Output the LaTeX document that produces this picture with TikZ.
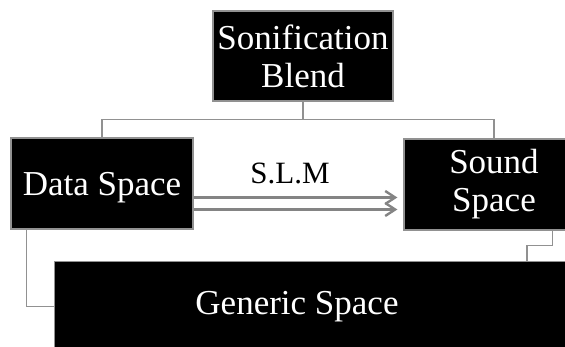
\documentclass[tikz,border=0pt]{standalone}
\usepackage{fontspec}
\setmainfont{Liberation Serif}
\usetikzlibrary{positioning,arrows.meta,calc}
\definecolor{blendgray}{RGB}{145,145,145}
\definecolor{mapgray}{RGB}{132,132,132}

\begin{document}
\begin{tikzpicture}[x=1pt,y=-1pt,
  space/.style={rectangle,draw=blendgray,line width=1.2pt,fill=black,text=white,
    align=center,inner sep=0pt,font=\fontsize{35}{38}\selectfont},
  link/.style={draw=blendgray,line width=1.2pt},
  map/.style={draw=mapgray,line width=2.4pt,-{Straight Barb[length=10pt,width=13pt]}}]
\useasboundingbox (0,0) rectangle (565,347);
\clip (0,0) rectangle (565,347);

% the blend on top, the two input spaces below it
\node[space,minimum width=180,minimum height=90] (blend) at (303,56) {Sonification\\Blend};
\node[space,minimum width=182,minimum height=91,text depth=0pt] (data) at (102,183.5) {Data Space};
\node[space,minimum width=180,minimum height=91] (sound) at (494,184.5) {Sound\\Space};

% generic space runs off the page at the right and bottom
\node[space,minimum width=560,minimum height=90,anchor=north west] (gen) at (54,261) {};
\node[font=\fontsize{35}{38}\selectfont,text=white] (genlabel) at (297,307) {Generic Space};

% elbow connectors
\draw[link] (blend.south) -- ++(0,18) coordinate (fork) -| (data.north);
\draw[link] (fork) -| (sound.north);
\draw[link] ($(data.south west)+(16,0)$) |- (gen.west);
\draw[link] ($(sound.south west)+(149,0)$) -- ++(0,15) -| ($(gen.north west)+(473,0)$);

% mapping between data and sound
\draw[map] ($(data.east)+(0,14)$) -- ($(data.east -| sound.west)+(-6,14)$);
\draw[map] ($(data.east)+(0,26)$) -- ($(data.east -| sound.west)+(-6,26)$);
\node[font=\fontsize{31}{31}\selectfont] (slm) at (290,173) {S.L.M};
\end{tikzpicture}
\end{document}
